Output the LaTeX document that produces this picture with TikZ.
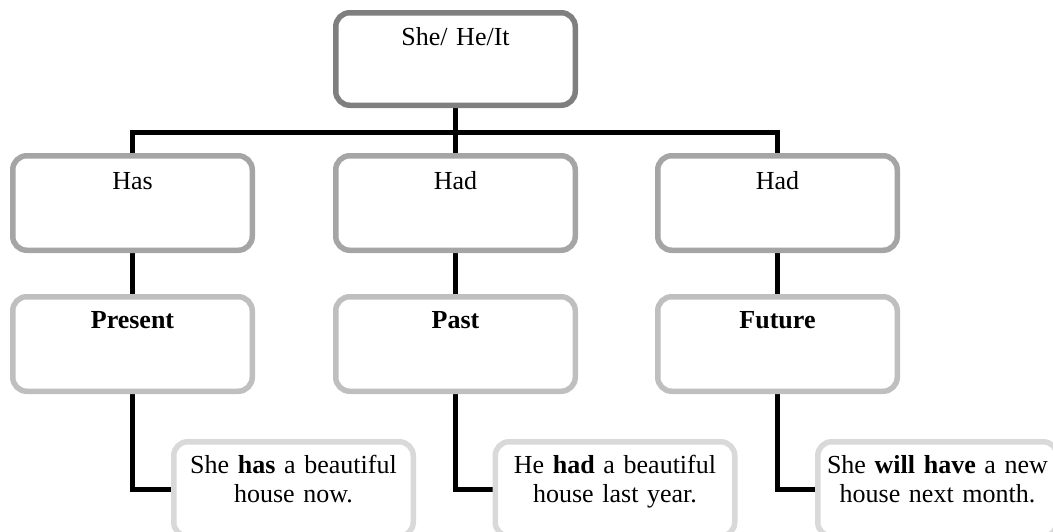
\documentclass[tikz,border=0pt]{standalone}
\usepackage{fontspec}
\setmainfont{Liberation Serif}
\usetikzlibrary{backgrounds}
\definecolor{rimA}{HTML}{7F7F7F}
\definecolor{rimB}{HTML}{A5A5A5}
\definecolor{rimC}{HTML}{BFBFBF}
\definecolor{rimD}{HTML}{D9D9D9}
\begin{document}
\begin{tikzpicture}[x=1pt,y=-1pt,
  card/.style={draw, fill=white, rounded corners=14pt, line width=5.5pt,
    inner sep=0pt, minimum width=239.5pt, minimum height=94.5pt,
    text width=239.5pt, align=center,
    font=\fontsize{26}{29}\selectfont},
  capA/.style={card, text height=32.25pt, text depth=60.25pt},
  capB/.style={card, text height=30.25pt, text depth=62.25pt},
  link/.style={line width=5pt, draw=black}]
\useasboundingbox (0,0) rectangle (1053,531);

% root
\node[capA, draw=rimA, minimum height=92.5pt, text depth=60.25pt] (root) at (455.5,59) {She/ He/It};

% second row: verbs
\node[capA, draw=rimB] (v1) at (132.5,203) {Has};
\node[capA, draw=rimB] (v2) at (455.5,203) {Had};
\node[capA, draw=rimB] (v3) at (777.5,203) {Had};

% third row: tenses
\node[capB, draw=rimC] (t1) at (132.5,344) {\textbf{Present}};
\node[capB, draw=rimC] (t2) at (455.5,344) {\textbf{Past}};
\node[capB, draw=rimC] (t3) at (777.5,344) {\textbf{Future}};

% fourth row: example sentences
\node[capB, draw=rimD] (e1) at (293.5,489) {She \textbf{has} a beautiful\\house now.};
\node[capB, draw=rimD] (e2) at (615,489) {He \textbf{had} a beautiful\\house last year.};
\node[capB, draw=rimD] (e3) at (937.5,489) {She \textbf{will have} a new\\house next month.};

\coordinate (bus) at (455.5,132);

\begin{pgfonlayer}{background}
  \draw[link] (root.south) -- (bus);
  \draw[link] (v1.north) |- (bus) -| (v3.north);
  \draw[link] (bus) -- (v2.north);
  \draw[link] (v1.south) -- (t1.north);
  \draw[link] (v2.south) -- (t2.north);
  \draw[link] (v3.south) -- (t3.north);
  \draw[link] (t1.south) |- (e1.west);
  \draw[link] (t2.south) |- (e2.west);
  \draw[link] (t3.south) |- (e3.west);
\end{pgfonlayer}
\end{tikzpicture}
\end{document}
